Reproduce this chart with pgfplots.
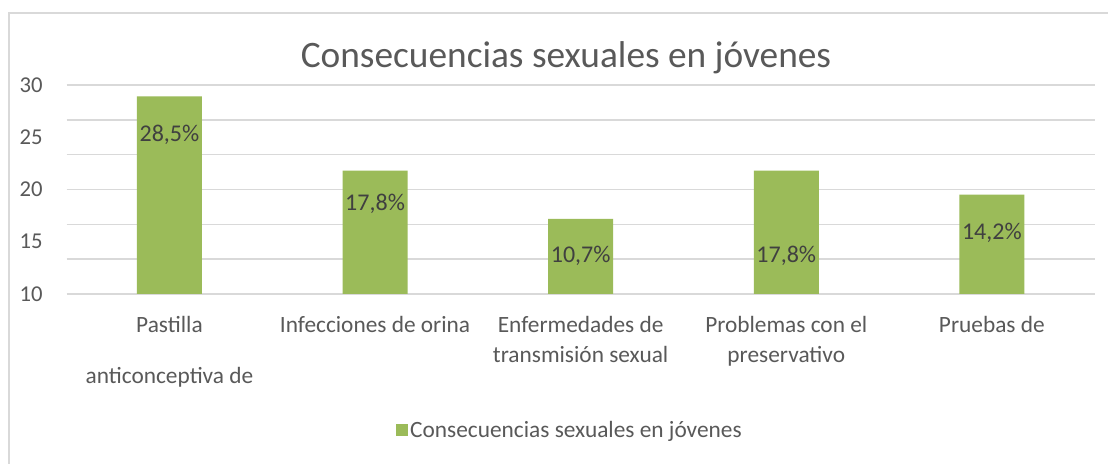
\documentclass[border=0pt]{standalone}
\usepackage{pgfplots}
\pgfplotsset{compat=1.18}
\usepackage{fontspec}
\setmainfont{Carlito}
\definecolor{barcol}{HTML}{9BBB59}
\definecolor{gridcol}{HTML}{D9D9D9}
\definecolor{textcol}{HTML}{595959}
\definecolor{labelcol}{HTML}{404040}
\begin{document}
\begin{tikzpicture}
\fill[white] (0pt,0pt) rectangle (831pt,348pt);
\useasboundingbox (0pt,0pt) rectangle (831pt,348pt);
\draw[gridcol, line width=1.5pt] (6.75pt,0pt) -- (6.75pt,338.25pt) -- (831pt,338.25pt);
\begin{axis}[
  at={(50pt,127.5pt)}, anchor=south west,
  width=771pt, height=156.75pt, scale only axis,
  xmin=-0.5, xmax=4.5, ymin=10, ymax=30,
  axis line style={draw=none},
  major tick length=0pt,
  ytick={10,15,20,25,30},
  extra y ticks={10,13.3333,16.6667,20,23.3333,26.6667,30},
  extra y tick labels={},
  extra y tick style={grid=major, major grid style={gridcol, line width=1.2pt}},
  /pgf/number format/assume math mode=true,
  yticklabel style={anchor=east, inner sep=0pt, xshift=-17.8pt, font=\fontsize{17}{20}\selectfont, text=textcol},
  xtick={0,1,2,3,4},
  xticklabels={{Pastilla\\[16pt]anticonceptiva de},{Infecciones de orina},{Enfermedades de\\transmisión sexual},{Problemas con el\\preservativo},{Pruebas de}},
  xticklabel style={align=center, anchor=north, inner sep=0pt, yshift=-16.5pt, font=\fontsize{17.5}{22.5}\selectfont, text=textcol},
  title={Consecuencias sexuales en jóvenes},
  title style={at={(0.4857,1.045)}, anchor=base, font=\fontsize{28}{32}\selectfont, text=textcol},
  legend style={at={(0.4896,-0.651)}, anchor=center, draw=none, fill=none, font=\fontsize{17.5}{20}\selectfont, text=textcol},
  legend image code/.code={\fill[barcol] (-2pt,-4.5pt) rectangle (7pt,4.5pt);},
]
\addplot[ybar, bar width=48.75pt, bar shift=0pt, fill=barcol, draw=none] coordinates {(0,28.9) (1,21.8) (2,17.2) (3,21.8) (4,19.5)};
\addlegendentry{Consecuencias sexuales en jóvenes}
\addplot[draw=none, mark=none, forget plot, nodes near coords, point meta=explicit symbolic,
  nodes near coords style={anchor=center, font=\fontsize{18}{20}\selectfont, text=labelcol}]
  coordinates {(0,25.2)[28,5\%] (1,18.6)[17,8\%] (2,13.65)[10,7\%] (3,13.65)[17,8\%] (4,15.85)[14,2\%]};
\end{axis}
\end{tikzpicture}
\end{document}
